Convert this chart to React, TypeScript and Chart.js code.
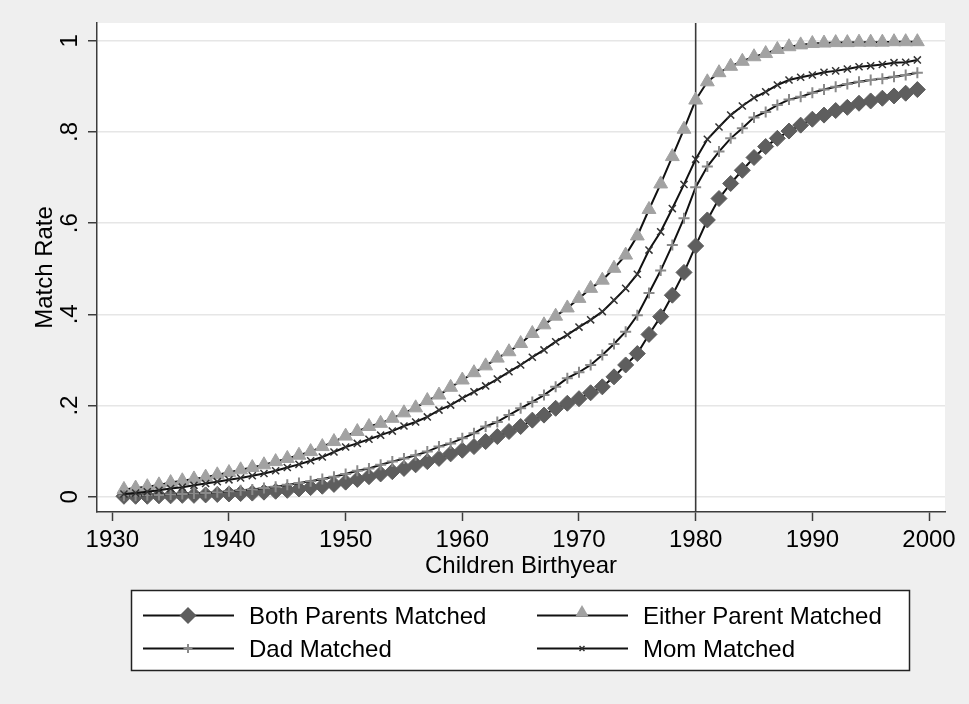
import React, { useEffect, useRef } from 'react';
import { Chart, registerables } from 'chart.js';

Chart.register(...registerables);

// ---------- data ----------
const YEARS = [
  1931, 1932, 1933, 1934, 1935, 1936, 1937, 1938, 1939, 1940,
  1941, 1942, 1943, 1944, 1945, 1946, 1947, 1948, 1949, 1950,
  1951, 1952, 1953, 1954, 1955, 1956, 1957, 1958, 1959, 1960,
  1961, 1962, 1963, 1964, 1965, 1966, 1967, 1968, 1969, 1970,
  1971, 1972, 1973, 1974, 1975, 1976, 1977, 1978, 1979, 1980,
  1981, 1982, 1983, 1984, 1985, 1986, 1987, 1988, 1989, 1990,
  1991, 1992, 1993, 1994, 1995, 1996, 1997, 1998, 1999,
];

const BOTH = [
  0.001, 0.001, 0.001, 0.002, 0.002, 0.003, 0.003, 0.004, 0.005, 0.006,
  0.007, 0.008, 0.010, 0.012, 0.014, 0.017, 0.020, 0.023, 0.027, 0.032,
  0.038, 0.044, 0.050, 0.055, 0.062, 0.070, 0.077, 0.084, 0.094, 0.102,
  0.110, 0.121, 0.132, 0.143, 0.154, 0.168, 0.179, 0.194, 0.205, 0.215,
  0.228, 0.241, 0.263, 0.289, 0.314, 0.356, 0.395, 0.442, 0.492, 0.550,
  0.607, 0.654, 0.687, 0.716, 0.744, 0.768, 0.786, 0.802, 0.815, 0.828,
  0.837, 0.847, 0.854, 0.863, 0.868, 0.874, 0.879, 0.885, 0.893,
];

const EITHER = [
  0.016, 0.019, 0.022, 0.026, 0.031, 0.035, 0.039, 0.043, 0.048, 0.053,
  0.059, 0.064, 0.070, 0.077, 0.084, 0.091, 0.099, 0.110, 0.121, 0.133,
  0.143, 0.154, 0.161, 0.172, 0.184, 0.195, 0.211, 0.223, 0.240, 0.256,
  0.272, 0.287, 0.304, 0.318, 0.336, 0.358, 0.377, 0.396, 0.414, 0.435,
  0.457, 0.475, 0.501, 0.530, 0.572, 0.630, 0.686, 0.746, 0.806, 0.870,
  0.910, 0.930, 0.944, 0.955, 0.965, 0.972, 0.981, 0.987, 0.991, 0.994,
  0.995, 0.996, 0.996, 0.997, 0.997, 0.997, 0.998, 0.998, 0.998,
];

const DAD = [
  0.002, 0.002, 0.003, 0.004, 0.005, 0.006, 0.007, 0.008, 0.010, 0.012,
  0.014, 0.016, 0.019, 0.022, 0.026, 0.030, 0.034, 0.039, 0.044, 0.050,
  0.057, 0.062, 0.070, 0.077, 0.084, 0.091, 0.099, 0.110, 0.117, 0.128,
  0.139, 0.154, 0.164, 0.179, 0.194, 0.208, 0.223, 0.241, 0.260, 0.273,
  0.289, 0.311, 0.335, 0.362, 0.398, 0.447, 0.496, 0.552, 0.611, 0.679,
  0.724, 0.757, 0.786, 0.808, 0.832, 0.844, 0.859, 0.871, 0.877, 0.886,
  0.893, 0.899, 0.905, 0.910, 0.914, 0.917, 0.921, 0.925, 0.930,
];

const MOM = [
  0.006, 0.008, 0.011, 0.014, 0.018, 0.021, 0.025, 0.029, 0.033, 0.037,
  0.041, 0.046, 0.051, 0.057, 0.064, 0.071, 0.079, 0.087, 0.098, 0.109,
  0.117, 0.126, 0.135, 0.144, 0.155, 0.164, 0.175, 0.190, 0.201, 0.216,
  0.230, 0.243, 0.258, 0.274, 0.289, 0.306, 0.322, 0.340, 0.355, 0.372,
  0.388, 0.406, 0.431, 0.457, 0.488, 0.541, 0.581, 0.632, 0.685, 0.740,
  0.784, 0.811, 0.837, 0.857, 0.875, 0.888, 0.903, 0.914, 0.920, 0.925,
  0.931, 0.934, 0.938, 0.943, 0.945, 0.948, 0.952, 0.953, 0.958,
];

const SERIES_NAMES = ['Both Parents Matched', 'Either Parent Matched', 'Dad Matched', 'Mom Matched'];

const X_TICKS = [1930, 1940, 1950, 1960, 1970, 1980, 1990, 2000];
const Y_TICKS = [0, 0.2, 0.4, 0.6, 0.8, 1];
const Y_TICK_LABELS = ['0', '.2', '.4', '.6', '.8', '1'];
const X_TITLE = 'Children Birthyear';
const Y_TITLE = 'Match Rate';
const VLINE_YEAR = 1980;

// ---------- styles ----------
const FONT = '"Liberation Sans", Arial, Helvetica, sans-serif';
const BG = '#efefef';
const AXIS = '#3c3c3c';
const GRID = '#e6e6e6';
const LINE = '#111111';

type Sty = { style: string; color: string; radius: number; lw: number; lradius: number };
const STYLES: Sty[] = [
  { style: 'rectRot', color: '#5e5e5e', radius: 8, lw: 1, lradius: 8.5 },
  { style: 'triangle', color: '#a2a2a2', radius: 8, lw: 1, lradius: 7.5 },
  { style: 'cross', color: '#8a8a8a', radius: 5.5, lw: 2, lradius: 4.5 },
  { style: 'crossRot', color: '#333333', radius: 5, lw: 1.5, lradius: 3.5 },
];

function drawMarker(ctx: CanvasRenderingContext2D, s: Sty, x: number, y: number, r: number) {
  ctx.save();
  ctx.fillStyle = s.color;
  ctx.strokeStyle = s.color;
  ctx.lineWidth = s.lw;
  ctx.beginPath();
  if (s.style === 'rectRot') {
    ctx.moveTo(x, y - r);
    ctx.lineTo(x + r, y);
    ctx.lineTo(x, y + r);
    ctx.lineTo(x - r, y);
    ctx.closePath();
    ctx.fill();
  } else if (s.style === 'triangle') {
    ctx.moveTo(x, y - r);
    ctx.lineTo(x + r * 0.866, y + r / 2);
    ctx.lineTo(x - r * 0.866, y + r / 2);
    ctx.closePath();
    ctx.fill();
  } else if (s.style === 'cross') {
    ctx.moveTo(x, y - r);
    ctx.lineTo(x, y + r);
    ctx.moveTo(x - r, y);
    ctx.lineTo(x + r, y);
    ctx.stroke();
  } else {
    const d = r * 0.7071;
    ctx.moveTo(x - d, y - d);
    ctx.lineTo(x + d, y + d);
    ctx.moveTo(x + d, y - d);
    ctx.lineTo(x - d, y + d);
    ctx.stroke();
  }
  ctx.restore();
}

const decor = {
  id: 'decor',
  beforeDraw(chart: any) {
    const { ctx, chartArea: a, width, height } = chart;
    ctx.save();
    ctx.fillStyle = BG;
    ctx.fillRect(0, 0, width, height);
    ctx.fillStyle = '#ffffff';
    ctx.fillRect(a.left, a.top, a.right - a.left, a.bottom - a.top);
    ctx.restore();
  },
  beforeDatasetsDraw(chart: any) {
    const { ctx, chartArea: a } = chart;
    const x = chart.scales.x.getPixelForValue(VLINE_YEAR);
    ctx.save();
    ctx.strokeStyle = '#3a3a3a';
    ctx.lineWidth = 1.6;
    ctx.beginPath();
    ctx.moveTo(x, a.top);
    ctx.lineTo(x, a.bottom);
    ctx.stroke();
    ctx.restore();
  },
  afterDraw(chart: any) {
    const { ctx, chartArea: a } = chart;
    const xs = chart.scales.x;
    const ys = chart.scales.y;
    ctx.save();
    ctx.fillStyle = '#000';
    ctx.font = `24px ${FONT}`;
    // x tick labels
    ctx.textAlign = 'center';
    ctx.textBaseline = 'alphabetic';
    X_TICKS.forEach((v) => {
      ctx.fillText(String(v), xs.getPixelForValue(v), a.bottom + 34.5);
    });
    // x title
    ctx.fillText(X_TITLE, (a.left + a.right) / 2, a.bottom + 61);
    // y tick labels (rotated)
    Y_TICKS.forEach((v, i) => {
      ctx.save();
      ctx.translate(a.left - 20, ys.getPixelForValue(v));
      ctx.rotate(-Math.PI / 2);
      ctx.fillText(Y_TICK_LABELS[i], 0, 0);
      ctx.restore();
    });
    // y title
    ctx.save();
    ctx.translate(a.left - 45, (a.top + a.bottom) / 2);
    ctx.rotate(-Math.PI / 2);
    ctx.fillText(Y_TITLE, 0, 0);
    ctx.restore();

    // legend
    const bx = 131.5, by = 590.5, bw = 778, bh = 80;
    ctx.fillStyle = '#ffffff';
    ctx.fillRect(bx, by, bw, bh);
    ctx.strokeStyle = '#222';
    ctx.lineWidth = 1.5;
    ctx.strokeRect(bx, by, bw, bh);
    const cols = [143, 537];
    const rows = [615.5, 648.5];
    SERIES_NAMES.forEach((name, i) => {
      const cx = cols[i % 2];
      const cy = rows[Math.floor(i / 2)];
      ctx.strokeStyle = LINE;
      ctx.lineWidth = 2;
      ctx.beginPath();
      ctx.moveTo(cx, cy);
      ctx.lineTo(cx + 91, cy);
      ctx.stroke();
      const s = STYLES[i];
      const my = s.style === 'triangle' ? cy - 3 : cy;
      drawMarker(ctx, s, cx + 45, my, s.lradius);
      ctx.fillStyle = '#000';
      ctx.textAlign = 'left';
      ctx.fillText(name, cx + 106, cy + 8.3);
    });
    ctx.restore();
  },
};

export default function App() {
  const ref = useRef<HTMLCanvasElement | null>(null);

  useEffect(() => {
    if (!ref.current) return;
    const seriesData = [BOTH, EITHER, DAD, MOM];
    const datasets = seriesData.map((vals, i) => ({
      label: SERIES_NAMES[i],
      data: YEARS.map((yr, j) => ({ x: yr, y: vals[j] })),
      borderColor: LINE,
      borderWidth: 2,
      pointStyle: STYLES[i].style,
      pointRadius: STYLES[i].radius,
      pointBackgroundColor: STYLES[i].color,
      pointBorderColor: STYLES[i].color,
      pointBorderWidth: STYLES[i].lw,
      tension: 0,
      fill: false,
      order: 4 - i,
    }));

    const chart = new Chart(ref.current, {
      type: 'line',
      data: { datasets },
      plugins: [decor],
      options: {
        animation: false,
        responsive: true,
        maintainAspectRatio: false,
        layout: { padding: { left: 0, top: 23, right: 24, bottom: 142 } },
        plugins: { legend: { display: false }, tooltip: { enabled: false } },
        scales: {
          x: {
            type: 'linear',
            min: 1928.69,
            max: 2001.37,
            afterFit: (s: any) => { s.height = 50; },
            afterBuildTicks: (s: any) => { s.ticks = X_TICKS.map((v) => ({ value: v })); },
            ticks: { display: false },
            grid: { drawOnChartArea: false, drawTicks: true, tickLength: 9, tickColor: AXIS, tickWidth: 1.5 },
            border: { display: true, color: AXIS, width: 1.5 },
          },
          y: {
            type: 'linear',
            min: -0.0335,
            max: 1.039,
            afterFit: (s: any) => { s.width = 97; },
            afterBuildTicks: (s: any) => { s.ticks = Y_TICKS.map((v) => ({ value: v })); },
            ticks: { display: false },
            grid: { drawOnChartArea: true, color: GRID, lineWidth: 1.5, drawTicks: true, tickLength: 9, tickColor: AXIS, tickWidth: 1.5 },
            border: { display: true, color: AXIS, width: 1.5 },
          },
        },
      },
    });
    return () => chart.destroy();
  }, []);

  return (
    <div style={{ position: 'absolute', left: 0, top: 0, width: 969, height: 704 }}>
      <canvas ref={ref} />
    </div>
  );
}
